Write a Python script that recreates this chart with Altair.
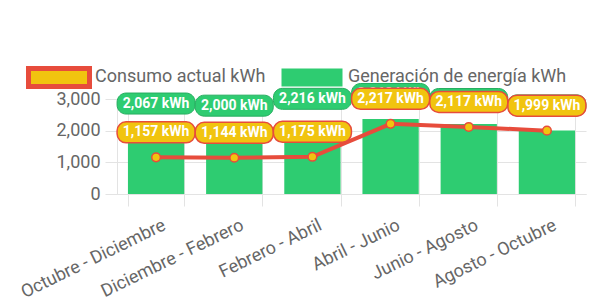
import altair as alt
import pandas as pd

periodos = ["Octubre - Diciembre", "Diciembre - Febrero", "Febrero - Abril",
            "Abril - Junio", "Junio - Agosto", "Agosto - Octubre"]
consumo = [1157, 1144, 1175, 2217, 2117, 1999]
generacion = [2067, 2000, 2216, 2368, 2210, 2009]
series = ["Consumo actual kWh", "Generación de energía kWh"]
y_ticks = [0, 1000, 2000, 3000]

GREEN = "#2ecc71"
GREEN_DARK = "#27ae60"
YELLOW = "#f1c40f"
RED = "#e74c3c"
GRID = "#e3e3e3"
TEXT = "#666666"
FONT = "Roboto"
FS = 18

df = pd.DataFrame({
    "periodo": periodos * 2,
    "serie": [series[0]] * len(periodos) + [series[1]] * len(periodos),
    "valor": consumo + generacion,
})


def rounded_box(w, h, r):
    s = w / 2.0
    hx = 1.0
    hy = (h / 2.0) / s
    rr = r / s
    k = 0.5523 * rr
    ax = hx - rr
    ay = hy - rr
    f = lambda v: f"{v:.4f}"
    return (
        f"M{f(-ax)},{f(-hy)}L{f(ax)},{f(-hy)}"
        f"C{f(ax + k)},{f(-hy)} {f(hx)},{f(-ay - k)} {f(hx)},{f(-ay)}"
        f"L{f(hx)},{f(ay)}"
        f"C{f(hx)},{f(ay + k)} {f(ax + k)},{f(hy)} {f(ax)},{f(hy)}"
        f"L{f(-ax)},{f(hy)}"
        f"C{f(-ax - k)},{f(hy)} {f(-hx)},{f(ay + k)} {f(-hx)},{f(ay)}"
        f"L{f(-hx)},{f(-ay)}"
        f"C{f(-hx)},{f(-ay - k)} {f(-ax - k)},{f(-hy)} {f(-ax)},{f(-hy)}Z"
    )


LABEL_W, LABEL_H, LABEL_R = 78, 21, 9
label_path = rounded_box(LABEL_W, LABEL_H, LABEL_R)
legend_path = "M-1,-0.2951H1V0.2951H-1Z"

base = alt.Chart(df).transform_calculate(
    etiqueta="format(datum.valor, ',') + ' kWh'"
)

x_enc = alt.X(
    "periodo:N",
    sort=periodos,
    title=None,
    scale=alt.Scale(paddingInner=0.28, paddingOuter=0.14),
    axis=alt.Axis(
        labelAngle=-26,
        labelAlign="right",
        labelBaseline="top",
        labelFontSize=FS,
        labelColor=TEXT,
        labelFont=FONT,
        labelPadding=10,
        labelOffset=4,
        tickBand="extent",
        tickSize=12,
        tickColor=GRID,
        gridColor=GRID,
        domainColor=GRID,
        grid=True,
    ),
)
y_enc = alt.Y(
    "valor:Q",
    title=None,
    scale=alt.Scale(domain=[0, 3000], nice=False),
    axis=alt.Axis(
        values=y_ticks,
        format=",.0f",
        labelFontSize=FS,
        labelColor=TEXT,
        labelFont=FONT,
        labelPadding=5,
        tickSize=12,
        tickColor=GRID,
        gridColor=GRID,
        domainColor=GRID,
    ),
)

legend = alt.Legend(
    title=None,
    orient="none",
    legendX=-91,
    legendY=-55,
    direction="horizontal",
    symbolType=legend_path,
    symbolSize=3721,
    symbolStrokeWidth=5,
    symbolOpacity=1,
    labelFontSize=FS,
    labelColor=TEXT,
    labelFont=FONT,
    labelOffset=3,
    labelLimit=400,
    columnPadding=5,
)

fill_enc = alt.Fill(
    "serie:N",
    scale=alt.Scale(domain=series, range=[YELLOW, GREEN]),
    legend=legend,
)
stroke_enc = alt.Stroke(
    "serie:N",
    scale=alt.Scale(domain=series, range=[RED, "transparent"]),
    legend=legend,
)

gen = base.transform_filter(alt.datum.serie == series[1])
con = base.transform_filter(alt.datum.serie == series[0])

bars = gen.mark_bar(opacity=1).encode(x=x_enc, y=y_enc, fill=fill_enc, stroke=stroke_enc)

line = con.mark_line(color=RED, strokeWidth=4).encode(x=x_enc, y=y_enc)

points = con.mark_point(filled=True, size=75, strokeWidth=1.5, opacity=1).encode(
    x=x_enc, y=y_enc, fill=fill_enc, stroke=stroke_enc
)


def labels(src, fill, stroke, sw):
    box = src.mark_point(
        shape=label_path, size=LABEL_W ** 2, filled=True, fill=fill,
        stroke=stroke, strokeWidth=sw, opacity=1, yOffset=-25,
    ).encode(x=x_enc, y=y_enc)
    txt = src.mark_text(
        font=FONT, fontSize=14, fontWeight="bold", color="white",
        align="center", baseline="middle", yOffset=-25,
    ).encode(x=x_enc, y=y_enc, text="etiqueta:N")
    return box + txt


chart = alt.layer(
    bars, line, points,
    labels(gen, GREEN, GREEN_DARK, 1),
    labels(con, YELLOW, RED, 1.5),
).properties(
    width=469,
    height=95,
    padding={"left": 117, "top": 99, "right": 8, "bottom": 103},
    autosize="none",
    background="white",
).configure_view(stroke=None)

chart.save("out.html", embed_options={"renderer": "svg", "actions": False})
